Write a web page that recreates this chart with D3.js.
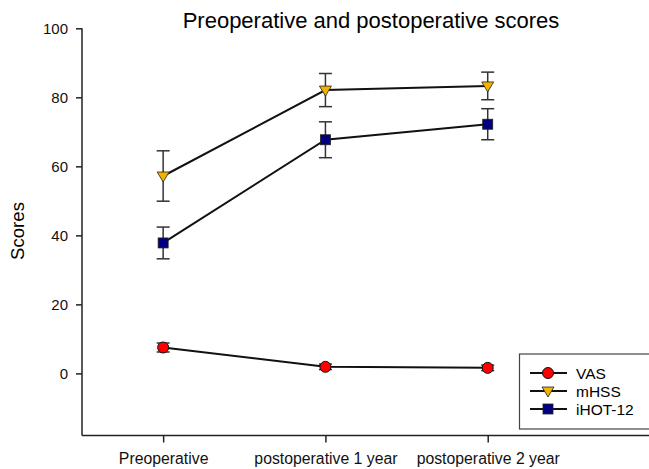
<!DOCTYPE html>
<meta charset="utf-8">
<style>
body { margin: 0; background: #fff; }
svg { font-family: "Liberation Sans", Arial, sans-serif; }
.axis path, .axis line { stroke: #222; stroke-width: 1.5; }
.axis text { fill: #111; }
.y.axis text { font-size: 15px; }
.x.axis text { font-size: 15.8px; }
</style>
<svg width="649" height="469"></svg>
<script src="https://cdn.jsdelivr.net/npm/d3@7"></script>
<script>

var categories = ["Preoperative", "postoperative 1 year", "postoperative 2 year"];
var vasMean  = [7.5, 1.9, 1.6];
var vasErr   = [1.3, 0.8, 0.8];
var mhssMean = [57.2, 82.1, 83.3];
var mhssErr  = [7.3, 4.8, 4.0];
var ihotMean = [37.8, 67.7, 72.2];
var ihotErr  = [4.6, 5.2, 4.5];
var yTicks = [0, 20, 40, 60, 80, 100];

var series = [
  {name: "VAS", mean: vasMean, err: vasErr, shape: "circle", color: "#ff0000"},
  {name: "mHSS", mean: mhssMean, err: mhssErr, shape: "tri", color: "#f2b200"},
  {name: "iHOT-12", mean: ihotMean, err: ihotErr, shape: "square", color: "#000080"}
];

var svg = d3.select("svg");

var x = d3.scaleLinear().domain([-0.5, 3]).range([82, 650]);
var y = d3.scaleLinear().domain([-18, 100]).range([435.5, 28.3]);

// axes
var yAxis = svg.append("g")
    .attr("class", "y axis")
    .attr("transform", "translate(82,0)")
    .call(d3.axisLeft(y).tickValues(yTicks).tickSize(6).tickSizeOuter(0).tickPadding(8));
yAxis.attr("font-size", null);
yAxis.select(".domain").attr("d", "M0,28.3V435.5");

var xAxis = svg.append("g")
    .attr("class", "x axis")
    .attr("transform", "translate(0,435.5)")
    .call(d3.axisBottom(x).tickValues([0, 1, 2]).tickFormat(i => categories[i]).tickSize(7).tickSizeOuter(0).tickPadding(10.5));
xAxis.attr("font-size", null);
xAxis.select(".domain").attr("d", "M82,0H650");

svg.append("text")
    .attr("x", 371).attr("y", 28)
    .attr("text-anchor", "middle")
    .style("font-size", "22px")
    .text("Preoperative and postoperative scores");

svg.append("text")
    .attr("transform", "translate(24,231) rotate(-90)")
    .attr("text-anchor", "middle")
    .style("font-size", "18.6px")
    .text("Scores");

function marker(g, shape, color) {
  if (shape === "circle") {
    g.append("circle").attr("r", 5.5).attr("fill", color).attr("stroke", "#111").attr("stroke-width", 1);
  } else if (shape === "tri") {
    g.append("path").attr("d", "M-6,-4L6,-4L0,6Z").attr("fill", color).attr("stroke", "#222").attr("stroke-width", 0.8);
  } else {
    g.append("rect").attr("x", -5).attr("y", -5).attr("width", 10).attr("height", 10)
        .attr("fill", color).attr("stroke", "#222").attr("stroke-width", 0.8);
  }
}

var line = d3.line().x((d, i) => x(i)).y(d => y(d));

series.forEach(function(s) {
  var g = svg.append("g");
  // error bars
  s.mean.forEach(function(m, i) {
    var hi = y(m + s.err[i]), lo = y(m - s.err[i]), cx = x(i);
    g.append("line").attr("x1", cx).attr("x2", cx).attr("y1", hi).attr("y2", lo)
        .attr("stroke", "#333").attr("stroke-width", 1.5);
    [hi, lo].forEach(function(yy) {
      g.append("line").attr("x1", cx - 6.5).attr("x2", cx + 6.5).attr("y1", yy).attr("y2", yy)
          .attr("stroke", "#333").attr("stroke-width", 1.5);
    });
  });
  g.append("path").datum(s.mean).attr("d", line)
      .attr("fill", "none").attr("stroke", "#111").attr("stroke-width", 2);
  s.mean.forEach(function(m, i) {
    var mg = g.append("g").attr("transform", "translate(" + x(i) + "," + y(m) + ")");
    marker(mg, s.shape, s.color);
  });
});

// legend
var legend = svg.append("g");
legend.append("rect").attr("x", 519.5).attr("y", 354).attr("width", 140).attr("height", 75)
    .attr("fill", "#fff").attr("stroke", "#444").attr("stroke-width", 1.2);
series.forEach(function(s, i) {
  var ly = 373 + i * 18;
  legend.append("line").attr("x1", 530).attr("x2", 567).attr("y1", ly).attr("y2", ly)
      .attr("stroke", "#111").attr("stroke-width", 2);
  marker(legend.append("g").attr("transform", "translate(548," + ly + ")"), s.shape, s.color);
  legend.append("text").attr("x", 576).attr("y", ly + 5.5).style("font-size", "15.5px").text(s.name);
});

</script>
